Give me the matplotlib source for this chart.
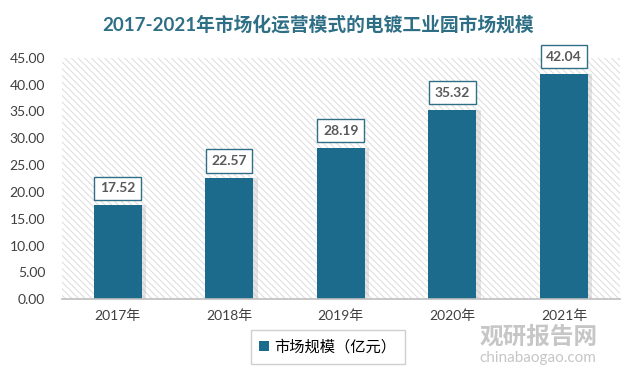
import matplotlib
matplotlib.use('Agg')
import matplotlib.pyplot as plt
from matplotlib.patches import Patch, Rectangle
import numpy as np

#%% data
years = ['2017年', '2018年', '2019年', '2020年', '2021年']
market_size = [17.52, 22.57, 28.19, 35.32, 42.04]
yticks = np.arange(0, 46, 5)

bar_color = '#1c6a8c'
title_color = '#2e6f86'

plt.rcParams['font.family'] = ['Lato', 'Noto Sans CJK SC', 'DejaVu Sans']
plt.rcParams['hatch.linewidth'] = 0.7

#%% figure
fig = plt.figure(figsize=(6.37, 3.73), dpi=100)
ax = fig.add_axes([0.097, 0.198, 0.876, 0.647])

# hatched background
bg = Rectangle((0, 0), 1, 1, transform=ax.transAxes, facecolor='white',
               edgecolor='#dcdcdc', hatch='\\\\\\\\\\', lw=0, zorder=0)
ax.add_patch(bg)

x = np.arange(len(years))
# soft shadow on right side of bars
ax.bar(x + 0.04, market_size, width=0.43, color='#9a9a9a', alpha=0.25, zorder=1)
bars = ax.bar(x, market_size, width=0.43, color=bar_color, zorder=2)

for xi, val in zip(x, market_size):
    ax.annotate('%.2f' % val, (xi, val), xytext=(0, 8), textcoords='offset points',
                ha='center', va='bottom', fontsize=10, fontweight='bold', color='#595959',
                bbox=dict(boxstyle='square,pad=0.4', fc='white', ec=title_color, lw=1),
                zorder=3)

ax.set_xlim(-0.5, len(years) - 0.5)
ax.set_ylim(0, 45)
ax.set_yticks(yticks)
ax.set_yticklabels(['%.2f' % t for t in yticks], fontsize=10, color='#404040')
ax.set_xticks(x)
ax.set_xticklabels(years, fontsize=10, color='#404040')
ax.tick_params(length=0, pad=7)
ax.tick_params(axis='y', pad=12)

for s in ['top', 'right', 'left']:
    ax.spines[s].set_visible(False)
ax.spines['bottom'].set_color('#bfbfbf')
ax.spines['bottom'].set_linewidth(1.2)

fig.text(0.5, 0.935, '2017-2021年市场化运营模式的电镀工业园市场规模', ha='center', va='center',
         fontsize=13.5, fontweight='bold', color=title_color)

# legend
handle = [Patch(facecolor=bar_color, label='市场规模（亿元）')]
fig.legend(handles=handle, loc='center', bbox_to_anchor=(0.515, 0.07), fancybox=False,
           edgecolor='#d0d0d0', framealpha=1, handlelength=0.6,
           handleheight=0.6, handletextpad=0.4, borderpad=0.55,
           prop={'family': ['Noto Sans CJK SC'], 'size': 11})

# watermark
fig.text(0.845, 0.1, '观研报告网', ha='center', va='center', fontsize=17,
         fontweight='bold', color='#b8b8b8', alpha=0.8)
fig.text(0.845, 0.04, 'chinabaogao.com', ha='center', va='center', fontsize=11,
         color='#b8b8b8', alpha=0.8)

plt.savefig('out.png', dpi=100)
plt.close()
